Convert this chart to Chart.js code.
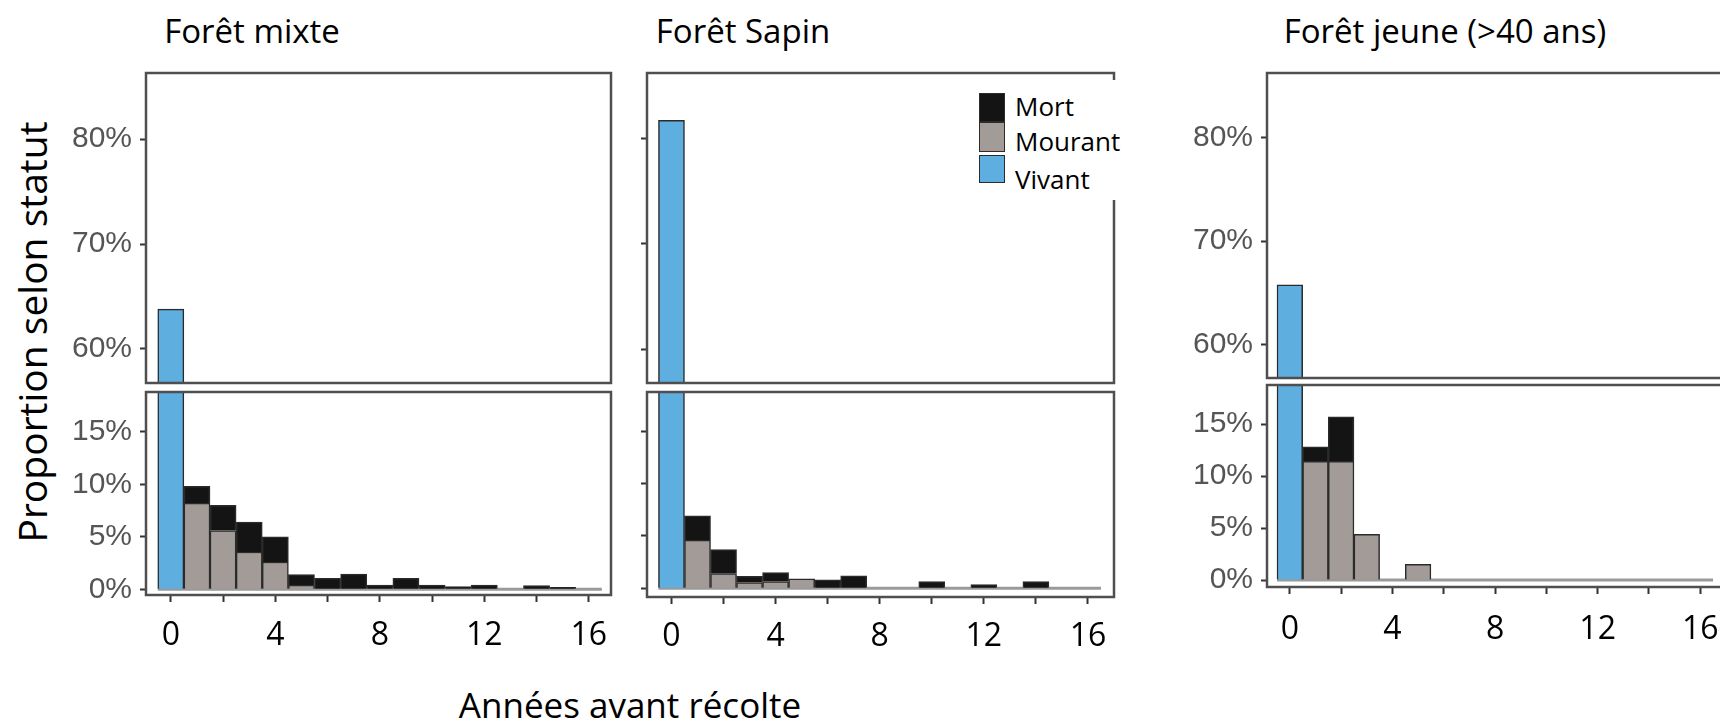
<!DOCTYPE html>
<html lang="fr">
<head>
<meta charset="utf-8">
<title>Statut des arbres avant récolte</title>
<script src="https://cdn.jsdelivr.net/npm/chart.js@4.4.1/dist/chart.umd.min.js"></script>
<style>
  html, body { margin: 0; padding: 0; background: #fff; overflow: hidden; }
  body { width: 1720px; height: 726px; position: relative; font-family: 'Open Sans', sans-serif; }
  canvas { position: absolute; }
  .txt { position: absolute; color: #000; white-space: nowrap; line-height: 1; transform: translate(-50%, -50%); }
  .title { font-size: 33px; top: 30px; }
  #ytitle { font-size: 39px; left: 31px; top: 332px; transform: translate(-50%, -50%) rotate(-90deg); }
  #xtitle { font-size: 35px; left: 630px; top: 704px; }
  #legend { position: absolute; left: 975px; top: 80px; width: 160px; height: 120px; background: #fff; z-index: 2; }
  #legend .sw { position: absolute; left: 4px; width: 26px; box-sizing: border-box; border: 1px solid #2b2b2b; }
  #legend .lb { position: absolute; left: 40px; font-size: 26px; line-height: 1; transform: translateY(-50%); }
</style>
</head>
<body>
<div class="txt title" style="left:252px">Forêt mixte</div>
<div class="txt title" style="left:743px">Forêt Sapin</div>
<div class="txt title" style="left:1445px">Forêt jeune (&gt;40 ans)</div>
<div class="txt" id="ytitle">Proportion selon statut</div>
<div class="txt" id="xtitle">Années avant récolte</div>
<div id="legend"></div>

<script>
// années avant récolte (une barre par année)
const years = [0, 1, 2, 3, 4, 5, 6, 7, 8, 9, 10, 11, 12, 13, 14, 15, 16];

// Forêt mixte (%)
const mixteVivant  = [63.8, 0, 0, 0, 0, 0, 0, 0, 0, 0, 0, 0, 0, 0, 0, 0, 0];
const mixteMourant = [0, 8.2, 5.6, 3.55, 2.6, 0.4, 0, 0, 0, 0, 0, 0, 0, 0, 0, 0, 0];
const mixteMort    = [0, 1.6, 2.4, 2.85, 2.4, 1.0, 1.05, 1.45, 0.4, 1.05, 0.4, 0.25, 0.4, 0, 0.35, 0.2, 0];

// Forêt Sapin (%)
const sapinVivant  = [81.7, 0, 0, 0, 0, 0, 0, 0, 0, 0, 0, 0, 0, 0, 0, 0, 0];
const sapinMourant = [0, 4.6, 1.4, 0.55, 0.65, 0.9, 0, 0, 0, 0, 0, 0, 0, 0, 0, 0, 0];
const sapinMort    = [0, 2.3, 2.3, 0.6, 0.85, 0, 0.8, 1.2, 0, 0, 0.65, 0, 0.35, 0, 0.65, 0, 0];

// Forêt jeune (>40 ans) (%)
const jeuneVivant  = [65.8, 0, 0, 0, 0, 0, 0, 0, 0, 0, 0, 0, 0, 0, 0, 0, 0];
const jeuneMourant = [0, 11.4, 11.4, 4.4, 0, 1.5, 0, 0, 0, 0, 0, 0, 0, 0, 0, 0, 0];
const jeuneMort    = [0, 1.4, 4.3, 0, 0, 0, 0, 0, 0, 0, 0, 0, 0, 0, 0, 0, 0];

// ligne de base (bornes des classes d'années)
const baseline = [-0.5, 16.5];

const seriesLabels = ['Vivant', 'Mourant', 'Mort'];
const seriesColors = ['#5eaee0', '#a39b97', '#141414'];

// graduations
const topTicks = [60, 70, 80];
const bottomTicks = [0, 5, 10, 15];
const xTicks = [0, 2, 4, 6, 8, 10, 12, 14, 16];
const xLabels = [0, 4, 8, 12, 16];

// mise en page (pixels)
const YW = 100, PAD = 30, XH = 75, RP = 20;

const panels = [
  { series: [mixteVivant, mixteMourant, mixteMort],
    left: 146, right: 611, x: [-0.95, 16.85], yLabels: true, labelPad: 15,
    top: { y0: 73, y1: 383, range: [56.76, 86.29] },
    bottom: { y0: 392, y1: 595, range: [-0.54, 18.78] } },
  { series: [sapinVivant, sapinMourant, sapinMort],
    left: 647, right: 1114, x: [-0.94, 17.0], yLabels: false, labelPad: 14,
    top: { y0: 73, y1: 383, range: [56.81, 86.19] },
    bottom: { y0: 392, y1: 597, range: [-0.83, 18.72] } },
  { series: [jeuneVivant, jeuneMourant, jeuneMort],
    left: 1267, right: 1740, x: [-0.89, 17.55], yLabels: true, labelPad: 17,
    top: { y0: 73, y1: 378, range: [56.82, 86.19] },
    bottom: { y0: 385, y1: 587, range: [-0.67, 18.75] } }
];

// cadre autour de la zone de tracé
const framePlugin = {
  id: 'frame',
  afterDatasetsDraw(chart) {
    const a = chart.chartArea, ctx = chart.ctx;
    ctx.save();
    ctx.strokeStyle = '#4f4f4f';
    ctx.lineWidth = 2.5;
    ctx.strokeRect(a.left, a.top, a.right - a.left, a.bottom - a.top);
    ctx.restore();
  }
};

function addCanvas(left, top, width, height) {
  const c = document.createElement('canvas');
  c.width = Math.round(width);
  c.height = Math.round(height);
  c.style.left = Math.round(left) + 'px';
  c.style.top = Math.round(top) + 'px';
  document.body.appendChild(c);
  return c.getContext('2d');
}

function renderPart(p, part) {
  const box = p[part];
  const isBottom = part === 'bottom';
  const h = PAD + (box.y1 - box.y0) + (isBottom ? XH : PAD);
  const ctx = addCanvas(p.left - YW, box.y0 - PAD, YW + (p.right - p.left) + RP, h);

  const datasets = p.series.map((values, i) => ({
    type: 'bar',
    label: seriesLabels[i],
    data: values,
    backgroundColor: seriesColors[i],
    borderColor: '#2b2b2b',
    borderWidth: 1.5,
    barPercentage: 1,
    categoryPercentage: 1,
    order: 0
  }));
  if (isBottom) {
    datasets.push({
      type: 'line',
      label: 'base',
      data: baseline.map(v => ({ x: v, y: 0 })),
      borderColor: '#9a9a9a',
      borderWidth: 3,
      pointRadius: 0,
      order: 1
    });
  }

  return new Chart(ctx, {
    type: 'bar',
    data: { labels: years, datasets: datasets },
    options: {
      responsive: false,
      animation: false,
      devicePixelRatio: 1,
      events: [],
      layout: { padding: { top: PAD, right: RP, left: 0, bottom: isBottom ? 0 : PAD } },
      plugins: { legend: { display: false }, tooltip: { enabled: false } },
      scales: {
        x: {
          type: 'linear', display: isBottom, min: p.x[0], max: p.x[1],
          stacked: true, offset: false,
          afterBuildTicks: s => { s.ticks = xTicks.map(v => ({ value: v })); },
          afterFit: s => { s.height = isBottom ? XH : 0; },
          grid: { offset: false, drawOnChartArea: false, tickLength: 7, tickWidth: 2, tickColor: '#333' },
          border: { display: false },
          ticks: {
            padding: p.labelPad, autoSkip: false, maxRotation: 0, color: '#000',
            font: { family: "'Open Sans', sans-serif", size: 32 },
            callback: v => xLabels.includes(v) ? String(v) : ''
          }
        },
        y: {
          min: box.range[0], max: box.range[1], stacked: true,
          afterBuildTicks: s => { s.ticks = (isBottom ? bottomTicks : topTicks).map(v => ({ value: v })); },
          afterFit: s => { s.width = YW; },
          grid: { drawOnChartArea: false, tickLength: 6, tickWidth: 2, tickColor: '#333' },
          border: { display: false },
          ticks: {
            display: p.yLabels, padding: 8, color: '#555',
            font: { family: "'Liberation Sans', Arial, sans-serif", size: 30 },
            callback: v => v + '%'
          }
        }
      }
    },
    plugins: [framePlugin]
  });
}

function renderLegend() {
  const legend = document.getElementById('legend');
  const swatchTops = [13, 42, 75];
  const swatchHeights = [29, 30, 28];
  const textCenters = [26, 61, 99];
  const order = seriesLabels.map((_, i) => i).reverse();
  order.forEach((idx, row) => {
    const sw = document.createElement('div');
    sw.className = 'sw';
    sw.style.top = swatchTops[row] + 'px';
    sw.style.height = swatchHeights[row] + 'px';
    sw.style.background = seriesColors[idx];
    legend.appendChild(sw);
    const lb = document.createElement('div');
    lb.className = 'lb';
    lb.style.top = textCenters[row] + 'px';
    lb.textContent = seriesLabels[idx];
    legend.appendChild(lb);
  });
}

panels.forEach(p => {
  renderPart(p, 'top');
  renderPart(p, 'bottom');
});
renderLegend();
</script>
</body>
</html>
